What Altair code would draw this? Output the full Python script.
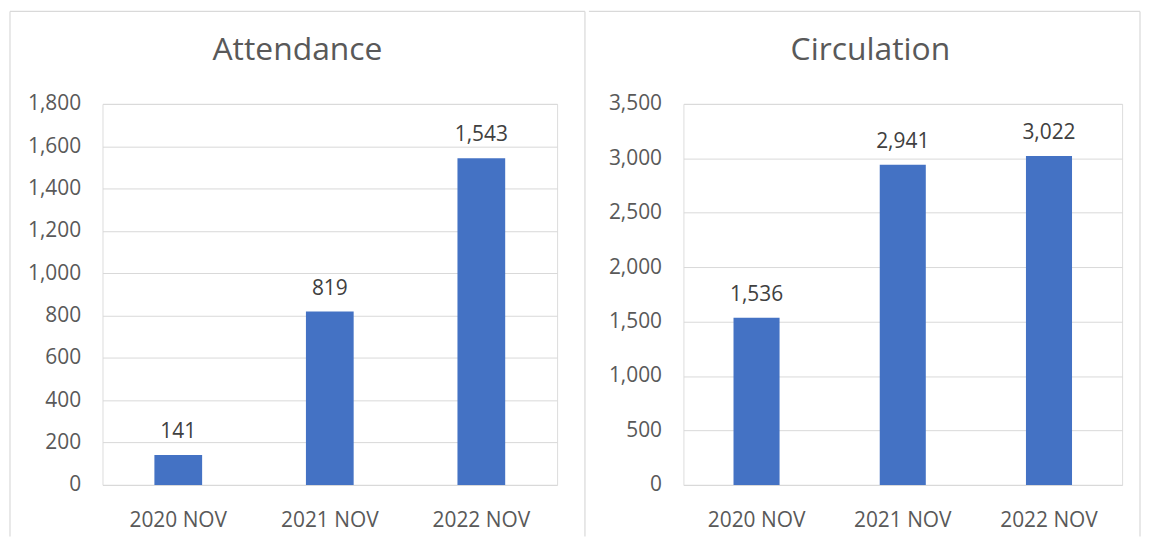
import altair as alt
import pandas as pd

months = ["2020 NOV", "2021 NOV", "2022 NOV"]
attendance = [141, 819, 1543]
circulation = [1536, 2941, 3022]

att_ticks = [0, 200, 400, 600, 800, 1000, 1200, 1400, 1600, 1800]
circ_ticks = [0, 500, 1000, 1500, 2000, 2500, 3000, 3500]

FONT = "Open Sans"
GRAY = "#595959"
BAR = "#4472C4"
LINE = "#D9D9D9"
H = 383
TOP = -93


def panel(title, values, ticks, width, title_x, left, right, left_border):
    df = pd.DataFrame({"month": months, "value": values})
    base = alt.Chart(df)
    x = alt.X("month:N", sort=months, title=None,
              scale=alt.Scale(paddingInner=0.685, paddingOuter=0.3425),
              axis=alt.Axis(labelAngle=0, domain=False, ticks=False, labelPadding=25,
                            labelFontSize=21, labelColor=GRAY, labelFont=FONT))
    y = alt.Y("value:Q", title=None,
              scale=alt.Scale(domain=[ticks[0], ticks[-1]], nice=False),
              axis=alt.Axis(values=ticks, labelExpr="format(datum.value, ',')",
                            domain=False, ticks=False,
                            labelPadding=22, labelFontSize=21, labelColor=GRAY,
                            labelFont=FONT, gridColor=LINE, gridWidth=1))
    bars = base.mark_bar(color=BAR).encode(x=x, y=y)
    labels = base.mark_text(fontSize=21, font=FONT, color="#404040", dy=-17,
                            baseline="alphabetic").encode(
        x=x, y=y, text=alt.Text("value:Q", format=","))
    one = alt.Data(values=[{"k": 1}])
    ttl = alt.Chart(one).mark_text(fontSize=32, font=FONT, color=GRAY, align="center",
                                   baseline="alphabetic").encode(
        x=alt.value(title_x), y=alt.value(-44), text=alt.value(title))
    top = alt.Chart(one).mark_rule(color=LINE, strokeWidth=1.2).encode(
        x=alt.value(left), x2=alt.value(right), y=alt.value(TOP))
    rside = alt.Chart(one).mark_rule(color=LINE, strokeWidth=1.2).encode(
        x=alt.value(right), y=alt.value(TOP), y2=alt.value(H + 52))
    layers = [top, rside]
    if left_border:
        lside = alt.Chart(one).mark_rule(color=LINE, strokeWidth=1.2).encode(
            x=alt.value(left), y=alt.value(TOP), y2=alt.value(H + 52))
        layers.append(lside)
    return alt.layer(*layers, bars, labels, ttl).properties(width=width, height=H)


left = panel("Attendance", attendance, att_ticks, 457, 196, -93, 485, True)
right = panel("Circulation", circulation, circ_ticks, 441, 188, -95, 459, False)

chart = alt.hconcat(left, right, spacing=0).properties(padding=0).configure_view(
    stroke=None).configure(font=FONT)

chart.save("out.html", embed_options={"renderer": "svg", "actions": False})
